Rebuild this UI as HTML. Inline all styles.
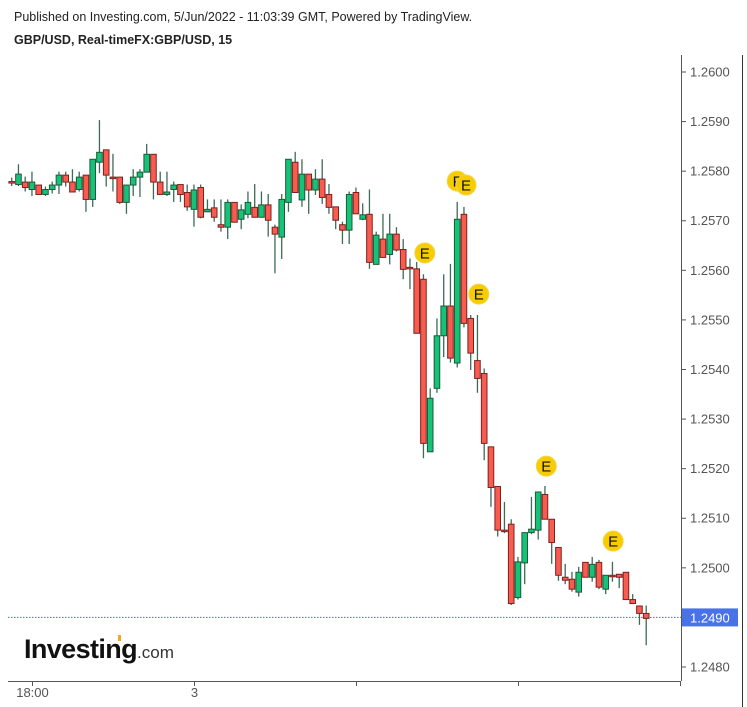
<!DOCTYPE html>
<html><head><meta charset="utf-8"><style>
html,body{margin:0;padding:0;background:#fff;width:747px;height:707px;overflow:hidden;font-family:"Liberation Sans",Arial,sans-serif;}
</style></head><body>
<svg id="chart" width="747" height="707" xmlns="http://www.w3.org/2000/svg" font-family="Liberation Sans, Arial, sans-serif">
<text x="14" y="21" font-size="12.5" fill="#222">Published on Investing.com, 5/Jun/2022 - 11:03:39 GMT, Powered by TradingView.</text>
<text x="14" y="44" font-size="12.5" font-weight="bold" fill="#222">GBP/USD, Real-timeFX:GBP/USD, 15</text>
<line x1="681.5" y1="55" x2="681.5" y2="681" stroke="#555" stroke-width="1"/>
<line x1="742.5" y1="55" x2="742.5" y2="707" stroke="#333" stroke-width="1"/>
<line x1="8" y1="681.5" x2="681" y2="681.5" stroke="#555" stroke-width="1"/>
<g id="yaxis"></g>
<g id="xaxis"></g>
<g id="candles"></g>
<g id="events"></g>
<g>
<text x="24" y="658" font-size="27" font-weight="bold" fill="#111" letter-spacing="-0.6" textLength="113" lengthAdjust="spacingAndGlyphs">Investing</text>
<text x="137" y="658" font-size="17" fill="#333" textLength="37" lengthAdjust="spacingAndGlyphs">.com</text>
<rect x="118" y="635" width="3" height="6" fill="#f5a623"/>
</g>
</svg>
<script>
const opens=[1.25779,1.25773,1.25778,1.25763,1.25772,1.25753,1.25763,1.25772,1.25792,1.25778,1.25763,1.25792,1.25743,1.25818,1.25843,1.25788,1.25788,1.25737,1.25772,1.25788,1.25798,1.25834,1.25778,1.25753,1.25763,1.25773,1.25757,1.25723,1.25767,1.25718,1.25726,1.25692,1.25687,1.25737,1.25703,1.25713,1.25727,1.25707,1.25732,1.25687,1.25667,1.25737,1.25818,1.25742,1.25794,1.25762,1.25784,1.25753,1.25728,1.25692,1.25681,1.25757,1.25703,1.25713,1.25612,1.25663,1.25632,1.25673,1.25642,1.25606,1.25603,1.25582,1.25234,1.25362,1.25468,1.25528,1.25413,1.25713,1.25503,1.25418,1.25392,1.25244,1.25164,1.25076,1.25088,1.24940,1.25010,1.25071,1.25076,1.25148,1.25098,1.25041,1.24981,1.24977,1.24951,1.25011,1.24981,1.25011,1.24957,1.24985,1.24987,1.24991,1.24936,1.24923,1.24908];
const highs=[1.25787,1.25814,1.25789,1.25799,1.25772,1.25769,1.25779,1.25799,1.25799,1.25804,1.25799,1.25792,1.25824,1.25903,1.25843,1.25835,1.25788,1.25772,1.25804,1.25804,1.25855,1.25834,1.25799,1.25799,1.25779,1.25773,1.25773,1.25773,1.25773,1.25743,1.25743,1.25743,1.25743,1.25737,1.25733,1.25759,1.25774,1.25759,1.25754,1.25692,1.25754,1.25824,1.25839,1.25824,1.25794,1.25804,1.25824,1.25774,1.25728,1.25698,1.25759,1.25767,1.25735,1.25763,1.25678,1.25714,1.25714,1.25687,1.25663,1.25624,1.25617,1.25592,1.25362,1.25503,1.25592,1.25613,1.25738,1.25728,1.25510,1.25510,1.25402,1.25244,1.25164,1.25133,1.25098,1.25022,1.25071,1.25143,1.25153,1.25165,1.25098,1.25041,1.25008,1.24992,1.25002,1.25011,1.25022,1.25016,1.24985,1.25012,1.24987,1.24991,1.24947,1.24923,1.24924];
const lows=[1.25770,1.25770,1.25759,1.25750,1.25752,1.25750,1.25755,1.25754,1.25769,1.25758,1.25759,1.25718,1.25728,1.25796,1.25769,1.25759,1.25734,1.25714,1.25750,1.25748,1.25798,1.25743,1.25753,1.25750,1.25738,1.25738,1.25720,1.25688,1.25705,1.25718,1.25698,1.25678,1.25663,1.25697,1.25683,1.25705,1.25707,1.25707,1.25668,1.25594,1.25623,1.25718,1.25757,1.25728,1.25714,1.25752,1.25734,1.25714,1.25683,1.25653,1.25653,1.25714,1.25701,1.25603,1.25612,1.25626,1.25612,1.25638,1.25582,1.25562,1.25473,1.25221,1.25234,1.25353,1.25425,1.25414,1.25404,1.25485,1.25399,1.25353,1.25217,1.25123,1.25063,1.25070,1.24925,1.24936,1.24967,1.25068,1.25057,1.25098,1.25008,1.24974,1.24967,1.24952,1.24942,1.24981,1.24972,1.24957,1.24947,1.24972,1.24959,1.24936,1.24928,1.24885,1.24844];
const closes=[1.25779,1.25794,1.25767,1.25778,1.25753,1.25763,1.25772,1.25792,1.25778,1.25758,1.25788,1.25743,1.25824,1.25838,1.25792,1.25788,1.25737,1.25772,1.25788,1.25798,1.25834,1.25778,1.25753,1.25758,1.25772,1.25753,1.25728,1.25762,1.25707,1.25723,1.25707,1.25687,1.25737,1.25697,1.25722,1.25737,1.25707,1.25732,1.25701,1.25673,1.25743,1.25824,1.25757,1.25794,1.25762,1.25784,1.25747,1.25727,1.25701,1.25681,1.25753,1.25714,1.25712,1.25616,1.25671,1.25626,1.25673,1.25641,1.25602,1.25606,1.25473,1.25251,1.25342,1.25468,1.25528,1.25423,1.25703,1.25493,1.25433,1.25382,1.25251,1.25162,1.25076,1.25076,1.24928,1.25012,1.25071,1.25078,1.25153,1.25098,1.25051,1.24985,1.24975,1.24957,1.24991,1.24981,1.25007,1.24961,1.24985,1.24985,1.24981,1.24936,1.24928,1.24908,1.24898];
const priceTicks=[1.2600,1.2590,1.2580,1.2570,1.2560,1.2550,1.2540,1.2530,1.2520,1.2510,1.2500,1.2490,1.2480];
const timeTickIndex=[3,27,51,75,99];
const timeTickLabels=["18:00","3","","",""];
const eventIndex=[61.2,66,67.3,69.2,79.2,89.1];
const eventPrice=[1.25635,1.25780,1.25772,1.25552,1.25205,1.25054];
const eventLabels=["E","F","E","E","E","E"];
const lastPrice=1.2490;

const NS="http://www.w3.org/2000/svg";
const yOf=p=>72+(1.2600-p)*49583;
const xOf=i=>11.7+6.75*i;
function mk(tag,attrs,parent){const e=document.createElementNS(NS,tag);for(const k in attrs)e.setAttribute(k,attrs[k]);parent.appendChild(e);return e;}
const yax=document.getElementById('yaxis');
priceTicks.forEach(p=>{
  if(Math.abs(p-lastPrice)<1e-9)return;
  const y=yOf(p);
  const t=mk('line',{x1:682,x2:686,y1:y,y2:y,stroke:'#555'},yax);
  
  
  const tx=mk('text',{x:690,y:y+4.5,'font-size':13,fill:'#555'},yax);
  tx.textContent=p.toFixed(4);
  
  
});
const xax=document.getElementById('xaxis');
timeTickIndex.forEach((ix,k)=>{
  const x=Math.round(xOf(ix))+0.5;
  const t=mk('line',{x1:x,x2:x,y1:681,y2:686,stroke:'#555'},xax);
  
  
  if(timeTickLabels[k]){
    const tx=mk('text',{x:x,y:697,'font-size':13,fill:'#555','text-anchor':'middle'},xax);
    tx.textContent=timeTickLabels[k];
    
    
  }
});
const cg=document.getElementById('candles');
opens.forEach((o,i)=>{
  const c=closes[i],h=highs[i],l=lows[i];
  const x=xOf(i);
  const up=c>o;
  const g=mk('g',{},cg);
  
  
  mk('line',{x1:x,x2:x,y1:yOf(h),y2:yOf(l),stroke:'#3d6b56','stroke-width':1.3},g);
  const top=yOf(Math.max(o,c)),bot=yOf(Math.min(o,c));
  mk('rect',{x:x-2.8,y:top,width:5.6,height:Math.max(bot-top,1.5),fill:up?'#14c278':'#f75c4f',stroke:up?'#1d5a3a':'#7d2020','stroke-width':1},g);
});
const ln=mk('line',{x1:8,x2:681,y1:yOf(lastPrice),y2:yOf(lastPrice),stroke:'#3d6df0','stroke-width':1,'stroke-dasharray':'1.5,1.5'},document.getElementById('chart'));


const lb=mk('rect',{x:682,y:yOf(lastPrice)-9,width:56,height:18,fill:'#4a72e8'},document.getElementById('chart'));


const lt=mk('text',{x:690,y:yOf(lastPrice)+5,'font-size':13,fill:'#fff'},document.getElementById('chart'));
lt.textContent=lastPrice.toFixed(4);


const eg=document.getElementById('events');
eventIndex.forEach((ix,k)=>{
  const x=xOf(ix),y=yOf(eventPrice[k]);
  const g=mk('g',{},eg);
  
  
  mk('circle',{cx:x,cy:y,r:10,fill:'#f7cc00',stroke:'#f3d54a','stroke-width':1},g);
  const t=mk('text',{x:x,y:y+5.5,'font-size':15,fill:'#111','text-anchor':'middle'},g);
  t.textContent=eventLabels[k];
});
</script>
</body></html>
